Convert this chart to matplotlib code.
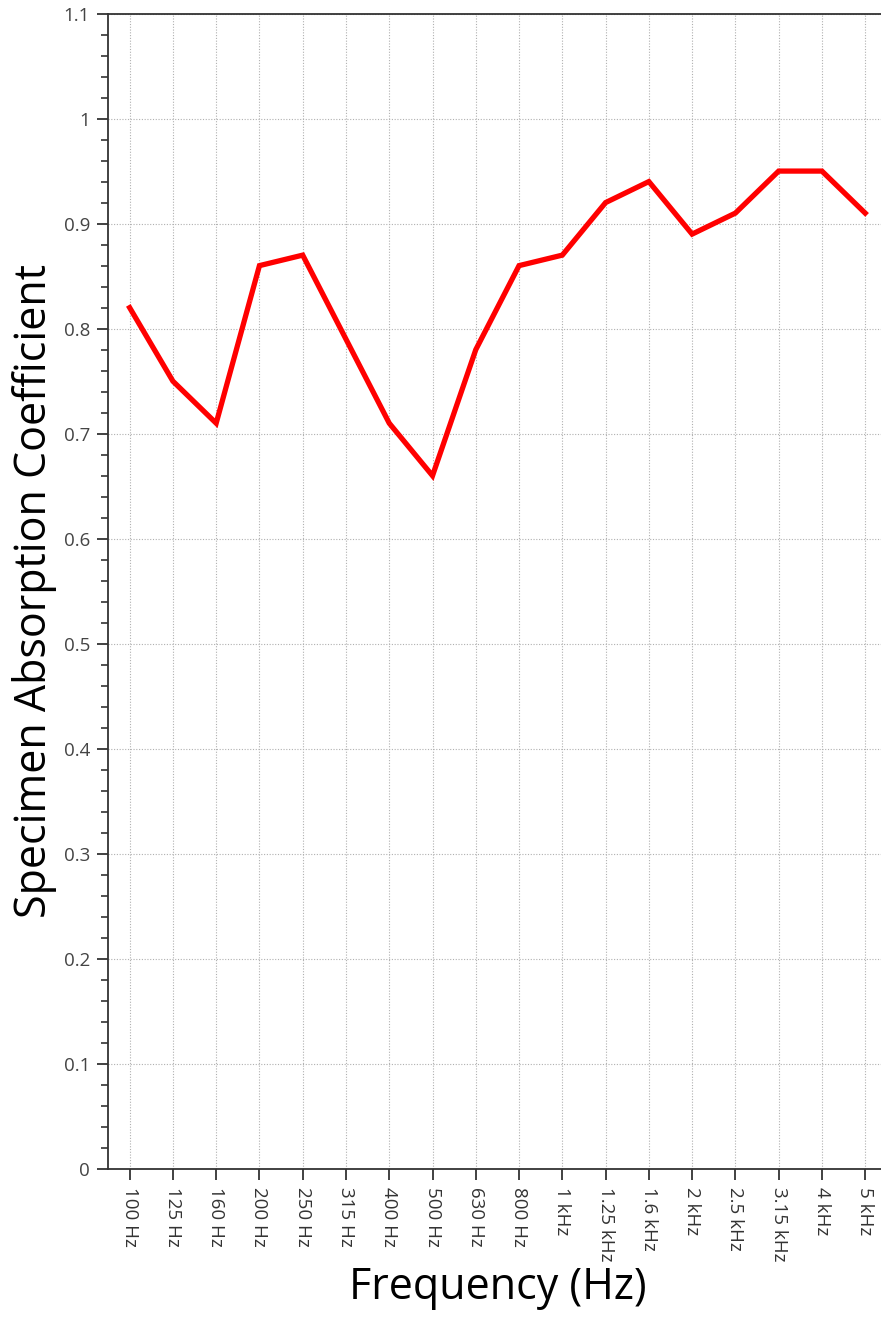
import matplotlib
matplotlib.use("Agg")
import matplotlib.pyplot as plt
from matplotlib.ticker import MultipleLocator

plt.rcParams['font.family'] = ['Open Sans', 'DejaVu Sans']

freqs = ["100 Hz", "125 Hz", "160 Hz", "200 Hz", "250 Hz", "315 Hz", "400 Hz", "500 Hz",
         "630 Hz", "800 Hz", "1 kHz", "1.25 kHz", "1.6 kHz", "2 kHz", "2.5 kHz", "3.15 kHz",
         "4 kHz", "5 kHz"]
absorption = [0.82, 0.75, 0.71, 0.86, 0.87, 0.79, 0.71, 0.66, 0.78, 0.86, 0.87, 0.92,
              0.94, 0.89, 0.91, 0.95, 0.95, 0.91]
yticks = [0, 0.1, 0.2, 0.3, 0.4, 0.5, 0.6, 0.7, 0.8, 0.9, 1, 1.1]
ytick_labels = ["0", "0.1", "0.2", "0.3", "0.4", "0.5", "0.6", "0.7", "0.8", "0.9", "1", "1.1"]

fig = plt.figure(figsize=(8.81, 13.24), dpi=100)
ax = fig.add_axes([0.1226, 0.117, 0.884, 0.8728])

x = list(range(len(freqs)))
ax.plot(x, absorption, color='#ff0000', linewidth=3.8, solid_joinstyle='miter', zorder=3)

ax.set_xlim(-0.5, len(freqs) - 0.5)
ax.set_ylim(0, 1.1)
ax.set_xticks(x)
ax.set_xticklabels(freqs, rotation=270, fontsize=13.5, color='#333333')
ax.set_yticks(yticks)
ax.set_yticklabels(ytick_labels, fontsize=13.5, color='#444444')
ax.yaxis.set_minor_locator(MultipleLocator(0.02))

ax.grid(True, which='major', linestyle=(0, (1, 1.5)), color='#b0b0b0', linewidth=0.8)
ax.tick_params(axis='both', which='major', direction='out', length=8, width=1.3,
               color='#333333', pad=5)
ax.tick_params(axis='y', which='minor', direction='out', length=5, width=1.2, color='#333333')

for s in ['left', 'bottom', 'top']:
    ax.spines[s].set_linewidth(1.3)
    ax.spines[s].set_color('#333333')
ax.spines['right'].set_visible(False)

ax.set_xlabel("Frequency (Hz)", fontsize=31, labelpad=3)
ax.set_ylabel("Specimen Absorption Coefficient", fontsize=31, labelpad=5)

fig.savefig("out.png", dpi=100)
